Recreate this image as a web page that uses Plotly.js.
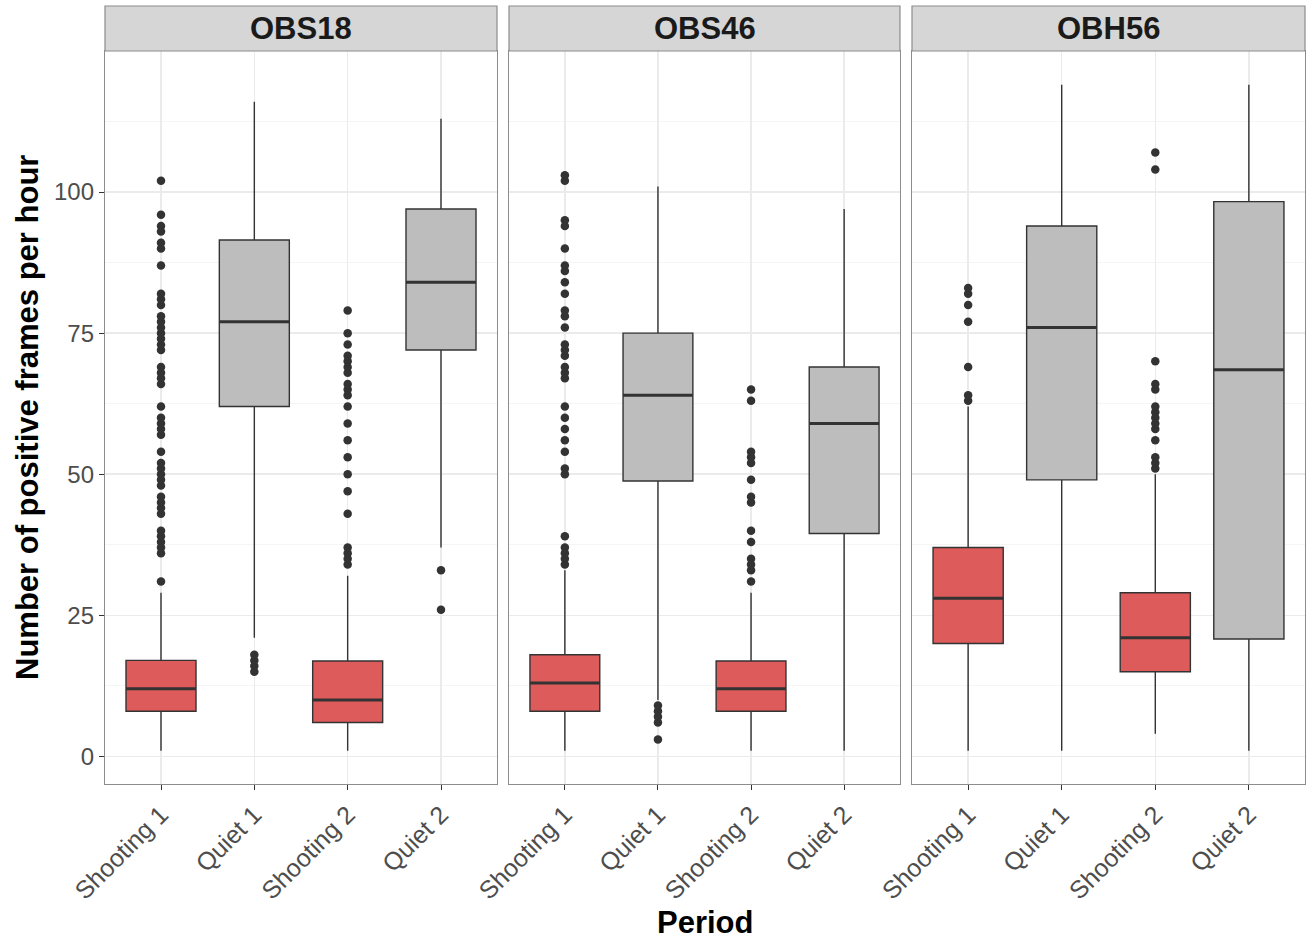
<!DOCTYPE html>
<html>
<head>
<meta charset="utf-8">
<script src="https://cdn.plot.ly/plotly-3.0.1.min.js"></script>
<style>html,body{margin:0;padding:0;background:#fff;}#chart{width:1312px;height:945px;}</style>
</head>
<body>
<div id="chart"></div>
<script>
// ---- data ----
const sites = ['OBS18', 'OBS46', 'OBH56'];
const periods = ['Shooting 1', 'Quiet 1', 'Shooting 2', 'Quiet 2'];
const periodColors = ['#DE5B5B', '#BDBDBD', '#DE5B5B', '#BDBDBD'];

// per site, values for [Shooting 1, Quiet 1, Shooting 2, Quiet 2]
const lowerOBS18 = [1, 21, 1, 37];
const q1OBS18    = [8, 62, 6, 72];
const medOBS18   = [12, 77, 10, 84];
const q3OBS18    = [17, 91.5, 16.9, 97];
const upperOBS18 = [29, 116, 32, 113];

const lowerOBS46 = [1, 10, 1, 1];
const q1OBS46    = [8, 48.8, 8, 39.5];
const medOBS46   = [13, 64, 12, 59];
const q3OBS46    = [18, 75, 16.9, 69];
const upperOBS46 = [33, 101, 29, 97];

const lowerOBH56 = [1, 1, 4, 1];
const q1OBH56    = [20, 49, 15, 20.8];
const medOBH56   = [28, 76, 21, 68.5];
const q3OBH56    = [37, 94, 29, 98.3];
const upperOBH56 = [62, 119, 50, 119];

const outOBS18 = [
  [31,36,37,38,39,40,43,44,45,46,48,49,50,51,52,54,57,58,59,60,62,66,67,68,69,72,73,74,75,76,77,78,80,81,82,87,90,91,93,94,96,102],
  [15,16,17,18],
  [34,35,36,37,43,47,50,53,56,59,62,64,65,66,68,69,70,71,73,75,79],
  [26,33]
];
const outOBS46 = [
  [34,35,36,37,39,50,51,54,56,58,60,62,67,68,69,71,72,73,76,78,79,82,84,86,87,90,94,95,102,103],
  [3,6,7,8,9],
  [31,33,34,35,38,40,45,46,49,52,53,54,63,65],
  []
];
const outOBH56 = [
  [63,64,69,77,80,82,83],
  [],
  [51,52,53,56,58,59,60,61,62,65,66,70,104,107],
  []
];

const yTicks = [0, 25, 50, 75, 100];

// ---- build ----
const stats = [
  {lower: lowerOBS18, q1: q1OBS18, med: medOBS18, q3: q3OBS18, upper: upperOBS18, out: outOBS18},
  {lower: lowerOBS46, q1: q1OBS46, med: medOBS46, q3: q3OBS46, upper: upperOBS46, out: outOBS46},
  {lower: lowerOBH56, q1: q1OBH56, med: medOBH56, q3: q3OBH56, upper: upperOBH56, out: outOBH56}
];
const FONT = 'Liberation Sans, Arial, Helvetica, sans-serif';
const traces = [];
stats.forEach((s, si) => {
  const xa = si === 0 ? 'x' : 'x' + (si + 1);
  const ya = si === 0 ? 'y' : 'y' + (si + 1);
  periods.forEach((p, pi) => {
    const pos = pi + 1;
    // outliers
    traces.push({
      type: 'scatter', mode: 'markers', xaxis: xa, yaxis: ya,
      x: s.out[pi].map(() => pos), y: s.out[pi],
      marker: {color: '#333333', size: 8.5},
      showlegend: false, hoverinfo: 'skip'
    });
    // box
    traces.push({
      type: 'box', xaxis: xa, yaxis: ya,
      x: [pos], q1: [s.q1[pi]], median: [s.med[pi]], q3: [s.q3[pi]],
      lowerfence: [s.lower[pi]], upperfence: [s.upper[pi]],
      width: 0.75, whiskerwidth: 0, boxpoints: false,
      fillcolor: periodColors[pi],
      line: {color: '#333333', width: 1.4},
      showlegend: false, hoverinfo: 'skip'
    });
    // thick median line
    traces.push({
      type: 'box', xaxis: xa, yaxis: ya,
      x: [pos], q1: [s.med[pi]], median: [s.med[pi]], q3: [s.med[pi]],
      lowerfence: [s.med[pi]], upperfence: [s.med[pi]],
      width: 0.75, whiskerwidth: 0, boxpoints: false,
      fillcolor: 'rgba(0,0,0,0)',
      line: {color: '#333333', width: 3},
      showlegend: false, hoverinfo: 'skip'
    });
  });
});

const W = 1312, H = 945;
const mL = 105, mR = 7, mT = 51, mB = 161;
const pw = W - mL - mR, ph = H - mT - mB;
const panelPx = [[105, 497], [509, 900], [912, 1305]];
const domains = panelPx.map(d => [(d[0] - mL) / pw, (d[1] - mL) / pw]);
const stripTop = 1 + 45 / ph;

const layout = {
  width: W, height: H,
  margin: {l: mL, r: mR, t: mT, b: mB, pad: 0},
  paper_bgcolor: '#ffffff', plot_bgcolor: '#ffffff',
  font: {family: FONT, color: '#4D4D4D', size: 24},
  showlegend: false,
  boxmode: 'overlay',
  shapes: [], annotations: []
};
domains.forEach((d, i) => {
  const sfx = i === 0 ? '' : String(i + 1);
  layout['xaxis' + sfx] = {
    domain: d, anchor: 'y' + sfx, range: [0.4, 4.6],
    tickmode: 'array', tickvals: [1, 2, 3, 4], ticktext: periods,
    tickangle: -45, ticks: 'outside', ticklen: 5, tickcolor: '#333333', tickwidth: 1,
    tickfont: {family: FONT, size: 25, color: '#4D4D4D'},
    showgrid: true, gridcolor: '#EBEBEB', gridwidth: 1.5,
    showline: true, mirror: true, linecolor: '#8C8C8C', linewidth: 1.2,
    zeroline: false, fixedrange: true
  };
  layout['yaxis' + sfx] = {
    domain: [0, 1], anchor: 'x' + sfx, range: [-4.9, 125.0],
    tickmode: 'array', tickvals: yTicks,
    showticklabels: i === 0, ticks: i === 0 ? 'outside' : '',
    ticklen: 5, tickcolor: '#333333', tickwidth: 1,
    tickfont: {family: FONT, size: 24, color: '#4D4D4D'},
    showgrid: true, gridcolor: '#EBEBEB', gridwidth: 1.5,
    minor: {dtick: 12.5, tick0: 0, showgrid: true, gridcolor: '#F5F5F5', gridwidth: 1, ticks: ''},
    showline: true, mirror: true, linecolor: '#8C8C8C', linewidth: 1.2,
    zeroline: false, fixedrange: true
  };
  layout.shapes.push({
    type: 'rect', xref: 'paper', yref: 'paper',
    x0: d[0], x1: d[1], y0: 1, y1: stripTop,
    fillcolor: '#D6D6D6', line: {color: '#8C8C8C', width: 1.2}, layer: 'above'
  });
  layout.annotations.push({
    xref: 'paper', yref: 'paper', x: (d[0] + d[1]) / 2, y: (1 + stripTop) / 2,
    xanchor: 'center', yanchor: 'middle', showarrow: false,
    text: '<b>' + sites[i] + '</b>',
    font: {family: FONT, size: 31, color: '#1A1A1A'}
  });
});
layout.annotations.push({
  xref: 'paper', yref: 'paper', x: (705 - mL) / pw, y: (mT + ph - 922) / ph,
  xanchor: 'center', yanchor: 'middle', showarrow: false,
  text: '<b>Period</b>', font: {family: FONT, size: 31, color: '#000000'}
});
layout.annotations.push({
  xref: 'paper', yref: 'paper', x: (27 - mL) / pw, y: (mT + ph - 418) / ph,
  xanchor: 'center', yanchor: 'middle', showarrow: false, textangle: -90,
  text: '<b>Number of positive frames per hour</b>', font: {family: FONT, size: 31, color: '#000000'}
});

Plotly.newPlot('chart', traces, layout, {staticPlot: true, displayModeBar: false});
</script>
</body>
</html>
